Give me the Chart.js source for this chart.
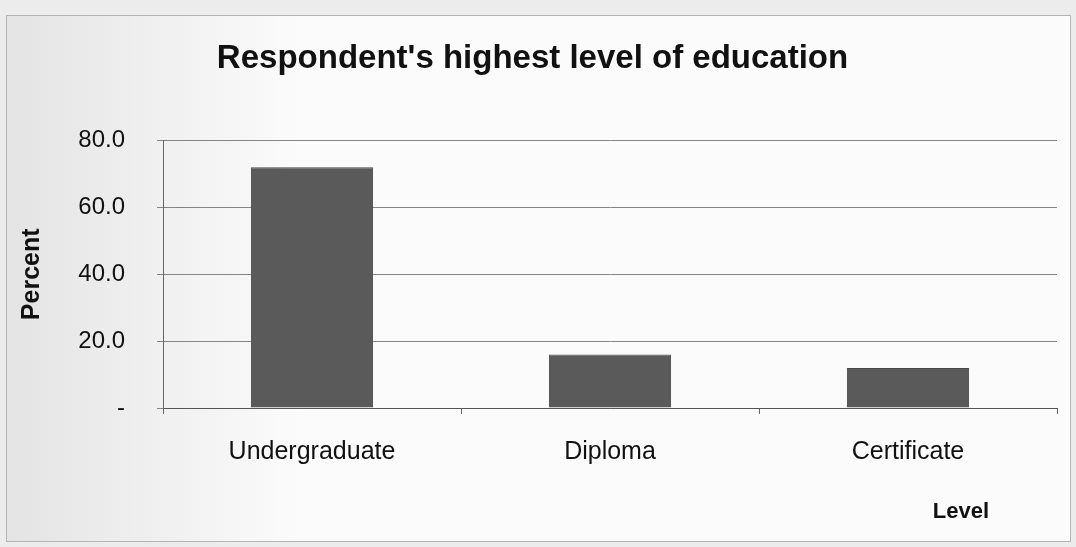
<!DOCTYPE html>
<html>
<head>
<meta charset="utf-8">
<title>Respondent's highest level of education</title>
<script src="https://cdn.jsdelivr.net/npm/chart.js@4/dist/chart.umd.min.js"></script>
<style>
    html, body { margin: 0; padding: 0; background: #ececec; }
    #wrap { width: 1076px; height: 547px; }
</style>
</head>
<body>
<div id="wrap"><canvas id="eduChart" width="1076" height="547"></canvas></div>
<script>
// data
const levels = ['Undergraduate', 'Diploma', 'Certificate'];
const percents = [72.0, 16.0, 12.0];
const yTicks = [0, 20, 40, 60, 80];

const FONT = "'Liberation Sans', Arial, sans-serif";

// light frame behind the chart, like the pasted office chart
const framePlugin = {
    id: 'frame',
    beforeDraw(chart) {
        const c = chart.ctx;
        c.save();
        c.fillStyle = '#ececec';
        c.fillRect(0, 0, chart.width, chart.height);
        const g = c.createLinearGradient(8, 0, 300, 0);
        g.addColorStop(0, '#e4e4e4');
        g.addColorStop(1, '#fbfbfb');
        c.fillStyle = g;
        c.fillRect(6, 15, 1064, 526);
        c.strokeStyle = '#b4b4b4';
        c.lineWidth = 1;
        c.strokeRect(6.5, 15.5, 1064, 526);
        c.restore();
    }
};

// "Level" sits a bit left of the plot's right edge
const levelTitle = {
    id: 'levelTitle',
    afterDraw(chart) {
        const c = chart.ctx;
        c.save();
        c.font = 'bold 22px ' + FONT;
        c.fillStyle = '#111';
        c.textAlign = 'right';
        c.textBaseline = 'middle';
        c.fillText('Level', chart.chartArea.right - 68, 512);
        c.restore();
    }
};

new Chart(document.getElementById('eduChart').getContext('2d'), {
    type: 'bar',
    data: {
        labels: levels,
        datasets: [{
            label: 'Percent',
            data: percents,
            backgroundColor: '#5a5a5a',
            borderColor: '#474747',
            borderWidth: 1,
            categoryPercentage: 1.0,
            barPercentage: 0.41
        }]
    },
    options: {
        responsive: false,
        animation: false,
        layout: { padding: { left: 8, right: 19, top: 0, bottom: 0 } },
        plugins: {
            legend: { display: false },
            tooltip: { enabled: false },
            title: {
                display: true,
                text: "Respondent's highest level of education",
                color: '#111',
                font: { family: FONT, size: 33, weight: 'bold' },
                padding: { top: 39, bottom: 62 }
            }
        },
        scales: {
            x: {
                afterFit: (scale) => { scale.height = 139; },
                grid: {
                    offset: true,
                    drawOnChartArea: false,
                    tickLength: 6,
                    color: '#666'
                },
                border: { color: '#555', width: 1 },
                ticks: {
                    color: '#111',
                    padding: 23,
                    font: { family: FONT, size: 25 }
                }
            },
            y: {
                min: 0,
                max: 80,
                afterFit: (scale) => { scale.width = 155; },
                afterBuildTicks: (scale) => { scale.ticks = yTicks.map(v => ({ value: v })); },
                grid: { color: '#858585', tickLength: 6 },
                border: { color: '#666', width: 1 },
                ticks: {
                    color: '#111',
                    padding: 32,
                    font: { family: FONT, size: 24 }
                    ,
                    callback: (v) => v === 0 ? '-' : v.toFixed(1)
                },
                title: {
                    display: true,
                    text: 'Percent',
                    color: '#111',
                    font: { family: FONT, size: 25, weight: 'bold' },
                    padding: { top: 9, bottom: 0 }
                }
            }
        }
    },
    plugins: [framePlugin, levelTitle]
});
</script>
</body>
</html>
